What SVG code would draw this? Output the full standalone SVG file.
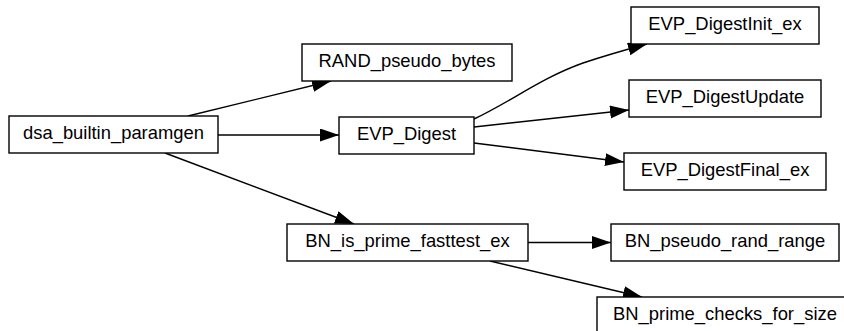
<svg xmlns="http://www.w3.org/2000/svg" width="844" height="331" viewBox="0 0 844 331">
  <defs>
    <marker id="arrow" markerUnits="userSpaceOnUse" markerWidth="20" markerHeight="14" refX="19" refY="6.5" orient="auto">
      <path d="M0,0 L19,6.5 L0,13 z" fill="#000"/>
    </marker>
    <style>
      .node rect { fill: #fff; stroke: #000; stroke-width: 1.4; }
      .node text { font-family: "Liberation Sans", Arial, sans-serif; font-size: 18.4px; text-anchor: middle; fill: #000; }
      .edge { fill: none; stroke: #000; stroke-width: 1.4; marker-end: url(#arrow); }
    </style>
  </defs>
  <rect width="844" height="331" fill="#fff"/>

  <g id="edges">
    <path class="edge" d="M188,116 L331,81"/>
    <path class="edge" d="M218,135 L339,135"/>
    <path class="edge" d="M165,153 L354,224"/>
    <path class="edge" d="M474,119 C512,101 541,78 583,63 C601,57 621,51 647,44"/>
    <path class="edge" d="M474,127 L629,110"/>
    <path class="edge" d="M474,143 L624,162"/>
    <path class="edge" d="M528,242.5 L611,242.5"/>
    <path class="edge" d="M490,261 L642,297"/>
  </g>

  <g id="dsa_builtin_paramgen" class="node">
    <rect x="9" y="116" width="209" height="37"/>
    <text x="113.5" y="139.2">dsa_builtin_paramgen</text>
  </g>
  <g id="RAND_pseudo_bytes" class="node">
    <rect x="302" y="44" width="210" height="37"/>
    <text x="407" y="67.2">RAND_pseudo_bytes</text>
  </g>
  <g id="EVP_Digest" class="node">
    <rect x="339" y="117" width="135" height="37"/>
    <text x="406.5" y="140.2">EVP_Digest</text>
  </g>
  <g id="BN_is_prime_fasttest_ex" class="node">
    <rect x="287" y="224" width="241" height="37"/>
    <text x="407.5" y="247.2">BN_is_prime_fasttest_ex</text>
  </g>
  <g id="EVP_DigestInit_ex" class="node">
    <rect x="631" y="7" width="188" height="37"/>
    <text x="725" y="30.2">EVP_DigestInit_ex</text>
  </g>
  <g id="EVP_DigestUpdate" class="node">
    <rect x="629" y="80" width="192" height="37"/>
    <text x="725" y="103.2">EVP_DigestUpdate</text>
  </g>
  <g id="EVP_DigestFinal_ex" class="node">
    <rect x="624" y="153" width="202" height="37"/>
    <text x="725" y="176.2">EVP_DigestFinal_ex</text>
  </g>
  <g id="BN_pseudo_rand_range" class="node">
    <rect x="611" y="224" width="228" height="37"/>
    <text x="725" y="247.2">BN_pseudo_rand_range</text>
  </g>
  <g id="BN_prime_checks_for_size" class="node">
    <rect x="597" y="297" width="256" height="37"/>
    <text x="725" y="320.2">BN_prime_checks_for_size</text>
  </g>
</svg>
